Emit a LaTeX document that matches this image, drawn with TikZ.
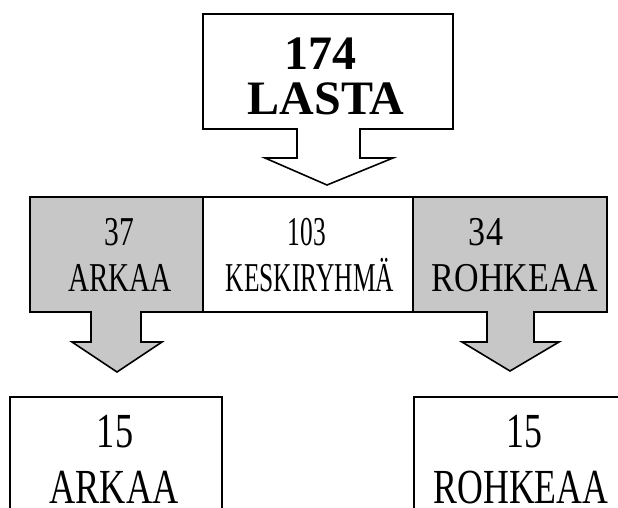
\documentclass[tikz,border=0pt]{standalone}
\usepackage{fontspec}
\setmainfont{Liberation Serif}
\usepackage{graphicx}
\tikzset{
  outline/.style={draw=black, line width=1.6pt, line join=miter},
  shaded/.style={outline, fill=black!22},
  txt/.style={anchor=base, inner sep=0pt, text depth=0pt},
  bigtxt/.style={txt, font=\fontsize{49}{49}\selectfont},
  midtxt/.style={txt, font=\fontsize{41}{41}\selectfont}
}
\newcommand{\narrow}[2]{\scalebox{#1}[1]{#2}}
\begin{document}
\begin{tikzpicture}[x=1pt,y=-1pt]
  \useasboundingbox (0,0) rectangle (618,508);
  \clip (0,0) rectangle (618,508);
  % top box with its arrow
  \draw[outline, fill=white] (203,14) -- (453,14) -- (453,129) -- (360,129)
    -- (360,158) -- (393,158) -- (327,185) -- (265,158) -- (297,158)
    -- (297,129) -- (203,129) -- cycle;
  % middle row
  \draw[shaded] (30,197) -- (203,197) -- (203,312) -- (141,312)
    -- (141,342) -- (162,342) -- (117,372) -- (72,342) -- (91,342)
    -- (91,312) -- (30,312) -- cycle;
  \draw[outline, fill=white] (203,197) rectangle (413,312);
  \draw[shaded] (413,197) -- (607,197) -- (607,312) -- (534,312)
    -- (534,342) -- (559,342) -- (510,371) -- (462,342) -- (487,342)
    -- (487,312) -- (413,312) -- cycle;
  % bottom row
  \draw[outline] (10,397) rectangle (222,530);
  \draw[outline] (414,397) rectangle (640,530);
  % texts
  \node[bigtxt, font=\fontsize{48}{48}\bfseries] (n174) at (320,70) {174};
  \node[bigtxt, font=\fontsize{48}{48}\bfseries] (lasta) at (326,114) {LASTA};
  \node[midtxt] (n37) at (119,245) {\narrow{0.72}{37}};
  \node[midtxt] (arkaa) at (120,291) {\narrow{0.71}{ARKAA}};
  \node[midtxt] (n103) at (307,245) {\narrow{0.62}{103}};
  \node[midtxt] (keski) at (310,291) {\narrow{0.62}{KESKIRYHMÄ}};
  \node[midtxt] (n34) at (486,245) {\narrow{0.83}{34}};
  \node[midtxt] (rohkea) at (515,291) {\narrow{0.83}{ROHKEAA}};
  \node[bigtxt] (n15a) at (115,447) {\narrow{0.74}{15}};
  \node[bigtxt] (arkaab) at (114,503) {\narrow{0.74}{ARKAA}};
  \node[bigtxt] (n15r) at (524,447) {\narrow{0.73}{15}};
  \node[bigtxt] (rohkeab) at (521,503) {\narrow{0.73}{ROHKEAA}};
\end{tikzpicture}
\end{document}
